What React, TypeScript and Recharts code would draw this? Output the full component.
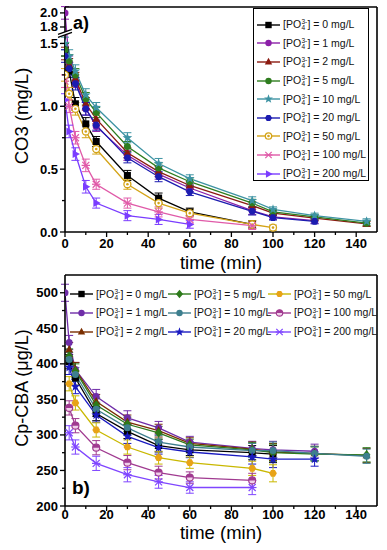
import React from 'react';
import { LineChart, Line, XAxis, YAxis, ErrorBar } from 'recharts';

// panel a) ozone decay, mg/L
const timeA = [0, 2, 5, 10, 15, 30, 45, 60, 90, 100, 120, 145];
const o3_0 = [1.45, 1.28, 1.02, 0.86, 0.72, 0.45, 0.27, 0.16, 0.06, null, null, null];
const o3_1 = [2.0, 1.35, 1.2, 0.98, 0.84, 0.61, 0.46, 0.35, 0.17, 0.12, 0.09, null];
const o3_2 = [1.42, 1.33, 1.22, 1.02, 0.9, 0.63, 0.48, 0.37, 0.21, 0.15, 0.11, 0.065];
const o3_5 = [1.45, 1.36, 1.25, 1.06, 0.95, 0.68, 0.51, 0.4, 0.23, 0.16, 0.12, 0.07];
const o3_10 = [1.5, 1.4, 1.28, 1.09, 0.99, 0.75, 0.545, 0.425, 0.25, 0.18, 0.13, 0.085];
const o3_20 = [1.4, 1.3, 1.18, 0.98, 0.85, 0.59, 0.44, 0.32, 0.165, 0.115, 0.085, null];
const o3_50 = [1.25, 1.1, 0.98, 0.8, 0.66, 0.38, 0.23, 0.15, 0.06, 0.035, null, null];
const o3_100 = [1.2, 1.0, 0.75, 0.53, 0.38, 0.23, 0.16, 0.1, 0.05, null, null, null];
const o3_200 = [1.05, 0.8, 0.62, 0.36, 0.23, 0.13, 0.1, 0.06, null, null, null, null];
const o3Err = [0.05, 0.05, 0.05, 0.05, 0.04, 0.04, 0.04, 0.03, 0.03, 0.02, 0.02, 0.02];

// panel b) p-CBA, ug/L
const timeB = [0, 2, 5, 15, 30, 45, 60, 90, 100, 120, 145];
const cba_0 = [null, 403, 380, 330, 305, 285, 279, 275, 273, null, null];
const cba_1 = [500, 430, 392, 354, 324, 310, 290, 281, 279, 277, null];
const cba_2 = [null, 420, 392, 347, 318, 306, 288, 280, 276, 274, 271];
const cba_5 = [null, 411, 390, 342, 315, 303, 286, 279, 275, 273, 272];
const cba_10 = [null, 406, 385, 336, 310, 290, 283, 278, 278, 274, 270];
const cba_20 = [null, 395, 368, 328, 298, 282, 276, 269, 266, 266, null];
const cba_50 = [null, 372, 345, 307, 283, 268, 261, 253, 246, null, null];
const cba_100 = [null, 338, 313, 282, 261, 247, 240, 236, null, null, null];
const cba_200 = [null, 303, 283, 260, 244, 234, 226, 226, null, null, null];
const cbaErr = [12, 10, 10, 10, 10, 9, 8, 10, 12, 10, 10];

const doses = ['0', '1', '2', '5', '10', '20', '50', '100', '200'];

const xTicks = [0, 10, 20, 30, 40, 50, 60, 70, 80, 90, 100, 110, 120, 130, 140];
const topMirrorTicks = [15, 30, 45, 60, 75, 90, 105, 120, 135];
const yValsA = [0, 0.25, 0.5, 0.75, 1, 1.25, 1.5, 1.8, 2.0];
const rightTicksA = [0.179, 0.358, 0.538, 0.717, 0.897, 1.077, 1.257, 1.434, 1.613];
const yTicksB = [200, 225, 250, 275, 300, 325, 350, 375, 400, 425, 450, 475, 500];
const rightTicksB = [237, 269, 301, 332, 364, 396, 427, 459, 491, 522];

const colorsA = ['#000000', '#8b1fa8', '#8b1a10', '#2f7d1f', '#3d93a3', '#1c1cb0', '#d4a418', '#e05aa8', '#7a3cff'];
const shapesA = ['square', 'circle', 'triangle', 'circle', 'star', 'hexagon', 'dotcircle', 'asterisk', 'rtriangle'];
const colorsB = ['#000000', '#6f2da8', '#7a2e00', '#2d7a1a', '#3e7f8e', '#1a1ac0', '#c9b800', '#a03a90', '#7f45ff'];
const markB = ['#000000', '#6f2da8', '#7a2e00', '#2d7a1a', '#3e7f8e', '#1a1ac0', '#e8a317', '#a03a90', '#7f45ff'];
const shapesB = ['square', 'circle', 'triangle', 'diamond', 'circle', 'star', 'hexagon', 'halfcircle', 'asterisk'];

// broken y axis on panel a (1.5 -> 1.8 gap)
const BREAK = 1.58;
const brk = (v: number) => (v > 1.6 ? 1.631 + (v - 1.8) * 0.56 : v);
const unbrk = (v: number) => (v > 1.6 ? 1.8 + (v - 1.631) / 0.56 : v);

function buildRows(times: number[], series: (number | null)[][], err: number[], f = (v: number) => v) {
  return times.map((t, i) => {
    const row: any = { t };
    series.forEach((vals, k) => {
      const v = vals[i];
      row['s' + k] = v == null ? null : f(v);
      row['e' + k] = v == null ? undefined : err[i];
    });
    return row;
  });
}

const rowsA = buildRows(timeA, [o3_0, o3_1, o3_2, o3_5, o3_10, o3_20, o3_50, o3_100, o3_200], o3Err, brk);
const rowsB = buildRows(timeB, [cba_0, cba_1, cba_2, cba_5, cba_10, cba_20, cba_50, cba_100, cba_200], cbaErr);

const font = 'Arial, "Liberation Sans", sans-serif';
const tickFont: any = { fontFamily: font, fontSize: 13, fontWeight: 700, fill: '#000' };
const axisStyle = { stroke: '#000', strokeWidth: 1.6 };

const pts = (arr: number[][], x: number, y: number, r: number) =>
  arr.map(([a, b]) => `${x + a * r},${y + b * r}`).join(' ');

function Marker({ shape, x, y, color, r = 3.5 }: any) {
  switch (shape) {
    case 'square':
      return <rect x={x - r} y={y - r} width={r * 2} height={r * 2} fill={color} />;
    case 'triangle':
      return <polygon points={pts([[0, -1.3], [1.15, 0.8], [-1.15, 0.8]], x, y, r)} fill={color} />;
    case 'rtriangle':
      return <polygon points={pts([[1.3, 0], [-0.8, -1.15], [-0.8, 1.15]], x, y, r)} fill={color} />;
    case 'diamond':
      return <polygon points={pts([[0, -1.35], [1.1, 0], [0, 1.35], [-1.1, 0]], x, y, r)} fill={color} />;
    case 'hexagon': {
      const p = [0, 1, 2, 3, 4, 5].map((i) => [Math.cos((Math.PI / 3) * i), Math.sin((Math.PI / 3) * i)].map((c) => c * 1.1));
      return <polygon points={pts(p, x, y, r)} fill={color} />;
    }
    case 'star': {
      const p = [0, 1, 2, 3, 4, 5, 6, 7, 8, 9].map((i) => {
        const a = -Math.PI / 2 + (Math.PI / 5) * i;
        const rr = i % 2 === 0 ? 1.45 : 0.6;
        return [Math.cos(a) * rr, Math.sin(a) * rr];
      });
      return <polygon points={pts(p, x, y, r)} fill={color} />;
    }
    case 'asterisk':
      return (
        <g stroke={color} strokeWidth={1.2}>
          <line x1={x - r} y1={y - r} x2={x + r} y2={y + r} />
          <line x1={x - r} y1={y + r} x2={x + r} y2={y - r} />
          <line x1={x - r * 1.2} y1={y} x2={x + r * 1.2} y2={y} />
        </g>
      );
    case 'dotcircle':
      return (
        <g>
          <circle cx={x} cy={y} r={r} fill="#fff" stroke={color} strokeWidth={1.3} />
          <circle cx={x} cy={y} r={1.3} fill={color} />
        </g>
      );
    case 'halfcircle':
      return (
        <g>
          <circle cx={x} cy={y} r={r} fill="#f0d0ea" stroke={color} strokeWidth={1.2} />
          <path d={`M${x - r},${y} A${r},${r} 0 0 1 ${x + r},${y} Z`} fill={color} />
        </g>
      );
    default:
      return <circle cx={x} cy={y} r={r} fill={color} />;
  }
}

const makeDot = (shape: string, color: string) => (p: any) => {
  if (p.cx == null || p.cy == null || isNaN(p.cy)) return <g key={'d' + p.index} />;
  return <Marker key={'d' + p.index} shape={shape} x={p.cx} y={p.cy} color={color} />;
};

function XTick({ x, y, payload, dy }: any) {
  const v = payload.value;
  const major = v % 20 === 0;
  return (
    <g>
      <line x1={x} x2={x} y1={y} y2={y + (major ? 5 : 3)} stroke="#000" strokeWidth={1.3} />
      {major && (
        <text x={x} y={y + dy} textAnchor="middle" style={tickFont}>
          {v}
        </text>
      )}
    </g>
  );
}

function YTickA({ x, y, payload }: any) {
  const tv = payload.value;
  if (tv === BREAK) {
    return (
      <g>
        <polygon points={`${x - 7},${y + 1} ${x + 7},${y - 4} ${x + 7},${y - 1} ${x - 7},${y + 4}`} fill="#fff" />
        <line x1={x - 7} y1={y + 1} x2={x + 7} y2={y - 4} stroke="#000" strokeWidth={1.3} />
        <line x1={x - 7} y1={y + 4} x2={x + 7} y2={y - 1} stroke="#000" strokeWidth={1.3} />
      </g>
    );
  }
  const v = unbrk(tv);
  const major = Math.abs(v * 2 - Math.round(v * 2)) < 1e-6 || v > 1.6;
  return (
    <g>
      <line x1={x} x2={x - (major ? 5 : 3)} y1={y} y2={y} stroke="#000" strokeWidth={1.3} />
      {major && (
        <text x={x - 7} y={y + 4.5} textAnchor="end" style={tickFont}>
          {v.toFixed(1)}
        </text>
      )}
    </g>
  );
}

function YTickB({ x, y, payload }: any) {
  const v = payload.value;
  const major = v % 50 === 0;
  return (
    <g>
      <line x1={x} x2={x - (major ? 5 : 3)} y1={y} y2={y} stroke="#000" strokeWidth={1.3} />
      {major && (
        <text x={x - 7} y={y + 4.5} textAnchor="end" style={tickFont}>
          {v}
        </text>
      )}
    </g>
  );
}

const TopTick = ({ x, y }: any) => <line x1={x} x2={x} y1={y} y2={y + 4} stroke="#000" strokeWidth={1.2} />;
const RightTick = ({ x, y }: any) => <line x1={x} x2={x - 4} y1={y} y2={y} stroke="#000" strokeWidth={1.2} />;

function Po4() {
  return (
    <span>
      [PO
      <span
        style={{
          display: 'inline-flex',
          flexDirection: 'column',
          fontSize: 6.5,
          lineHeight: '6px',
          verticalAlign: 'middle',
          margin: '0 0.3px',
        }}
      >
        <span>3-</span>
        <span>4</span>
      </span>
      ]
    </span>
  );
}

function LegendItem({ color, mark, shape, dose }: any) {
  return (
    <div style={{ display: 'flex', alignItems: 'center', height: 18.6, whiteSpace: 'nowrap' }}>
      <svg width={23} height={12} style={{ flex: 'none' }}>
        <line x1={0} y1={6} x2={23} y2={6} stroke={color} strokeWidth={1.4} />
        <Marker shape={shape} x={11.5} y={6} color={mark} r={3.2} />
      </svg>
      <span style={{ marginLeft: 3, fontSize: 10.5, fontFamily: font, color: '#111' }}>
        <Po4 /> = {dose} mg/L
      </span>
    </div>
  );
}

function renderLines(colors: string[], marks: string[], shapes: string[]) {
  return doses.map((d, k) => (
    <Line
      key={d}
      type="linear"
      dataKey={'s' + k}
      stroke={colors[k]}
      strokeWidth={1.3}
      dot={makeDot(shapes[k], marks[k])}
      activeDot={false}
      isAnimationActive={false}
    >
      <ErrorBar dataKey={'e' + k} width={4} stroke={colors[k]} strokeWidth={1} direction="y" />
    </Line>
  ));
}

const ticksA = [...yValsA.slice(0, 7), BREAK, ...yValsA.slice(7)].map((v) => (v === BREAK ? v : brk(v)));

export default function App() {
  return (
    <div style={{ position: 'relative', width: 387, height: 550, background: '#fff' }}>
      <style>{'body{margin:0}'}</style>

      {/* panel a */}
      <div style={{ position: 'absolute', left: 0, top: 0, width: 387, height: 270 }}>
        <LineChart width={387} height={270} data={rowsA} margin={{ top: 6, right: 9, left: 64, bottom: 37 }}>
          <XAxis dataKey="t" type="number" domain={[0, 150]} ticks={xTicks} interval={0} allowDataOverflow height={1}
            tickSize={0} tickMargin={0} tickLine={false} tick={(p: any) => <XTick {...p} dy={16} />} axisLine={axisStyle} />
          <XAxis xAxisId="top" orientation="top" type="number" domain={[0, 150]} ticks={topMirrorTicks} interval={0}
            height={1} tickSize={0} tickMargin={0} tickLine={false} tick={(p: any) => <TopTick {...p} />} axisLine={axisStyle} />
          <YAxis type="number" domain={[0, 1.79]} ticks={ticksA} interval={0} allowDataOverflow width={1}
            tickSize={0} tickMargin={0} tickLine={false} tick={(p: any) => <YTickA {...p} />} axisLine={axisStyle} />
          <YAxis yAxisId="right" orientation="right" type="number" domain={[0, 1.79]} ticks={rightTicksA} interval={0}
            width={1} tickSize={0} tickMargin={0} tickLine={false} tick={(p: any) => <RightTick {...p} />} axisLine={axisStyle} />
          {renderLines(colorsA, colorsA, shapesA)}
        </LineChart>
        <svg width={387} height={270} style={{ position: 'absolute', left: 0, top: 0, overflow: 'visible', pointerEvents: 'none' }}>
          <text transform="translate(28,116) rotate(-90)" textAnchor="middle" fontFamily={font} fontSize={18.5}>
            CO3 (mg/L)
          </text>
          <text x={221} y={269} textAnchor="middle" fontFamily={font} fontSize={18.5}>
            time (min)
          </text>
          <text x={73} y={29} fontFamily={font} fontSize={18} fontWeight={700}>
            a)
          </text>
        </svg>
        <div
          style={{
            position: 'absolute',
            left: 253,
            top: 8,
            width: 116,
            height: 173,
            border: '1px solid #000',
            background: '#fff',
            paddingTop: 6.5,
            paddingLeft: 3,
            boxSizing: 'border-box',
          }}
        >
          {doses.map((d, k) => (
            <LegendItem key={d} color={colorsA[k]} mark={colorsA[k]} shape={shapesA[k]} dose={d} />
          ))}
        </div>
      </div>

      {/* panel b */}
      <div style={{ position: 'absolute', left: 0, top: 270, width: 387, height: 280 }}>
        <LineChart width={387} height={280} data={rowsB} margin={{ top: 4, right: 9, left: 64, bottom: 43 }}>
          <XAxis dataKey="t" type="number" domain={[0, 150]} ticks={xTicks} interval={0} allowDataOverflow height={1}
            tickSize={0} tickMargin={0} tickLine={false} tick={(p: any) => <XTick {...p} dy={13} />} axisLine={axisStyle} />
          <XAxis xAxisId="top" orientation="top" type="number" domain={[0, 150]} ticks={topMirrorTicks} interval={0}
            height={1} tickSize={0} tickMargin={0} tickLine={false} tick={(p: any) => <TopTick {...p} />} axisLine={axisStyle} />
          <YAxis type="number" domain={[200, 525]} ticks={yTicksB} interval={0} allowDataOverflow width={1}
            tickSize={0} tickMargin={0} tickLine={false} tick={(p: any) => <YTickB {...p} />} axisLine={axisStyle} />
          <YAxis yAxisId="right" orientation="right" type="number" domain={[200, 525]} ticks={rightTicksB} interval={0}
            width={1} tickSize={0} tickMargin={0} tickLine={false} tick={(p: any) => <RightTick {...p} />} axisLine={axisStyle} />
          {renderLines(colorsB, markB, shapesB)}
        </LineChart>
        <svg width={387} height={280} style={{ position: 'absolute', left: 0, top: 0, overflow: 'visible', pointerEvents: 'none' }}>
          <text transform="translate(28,118) rotate(-90)" textAnchor="middle" fontFamily={font} fontSize={18}>
            Cp-CBA (μg/L)
          </text>
          <text x={221} y={269} textAnchor="middle" fontFamily={font} fontSize={18.5}>
            time (min)
          </text>
          <text x={72} y={224} fontFamily={font} fontSize={19} fontWeight={700}>
            b)
          </text>
        </svg>
        {[0, 1, 2].map((c) => (
          <div key={c} style={{ position: 'absolute', left: [70, 168, 268][c], top: 15.2 }}>
            {[0, 1, 2].map((r) => {
              const k = c * 3 + r;
              return <LegendItem key={k} color={colorsB[k]} mark={markB[k]} shape={shapesB[k]} dose={doses[k]} />;
            })}
          </div>
        ))}
      </div>
    </div>
  );
}
